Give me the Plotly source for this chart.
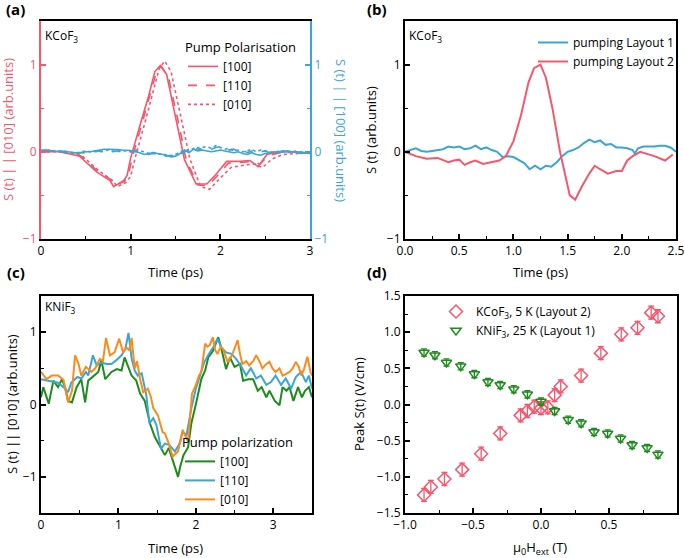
import plotly.graph_objects as go

RED = "#f7566d"
BLUE = "#3aa6d3"
GREEN = "#1c8c1c"
ORANGE = "#fb8c1c"
FONT = "Open Sans"

# ---------------- Panel (a) data ----------------
a_t_100 = [0, 0.2, 0.35, 0.43, 0.62, 0.77, 0.81, 0.92, 0.96, 1.0, 1.1, 1.2, 1.27, 1.33, 1.4, 1.51, 1.6, 1.73, 1.85, 1.95, 2.07, 2.22, 2.33, 2.42, 2.52, 2.65, 2.8, 3.0]
a_v_100 = [0, 0.0, -0.03, -0.05, -0.23, -0.33, -0.40, -0.33, -0.27, -0.07, 0.29, 0.64, 0.92, 0.99, 0.89, 0.37, -0.09, -0.37, -0.37, -0.26, -0.11, -0.11, -0.10, -0.17, -0.03, 0.0, 0.0, -0.02]
a_t_110 = [0, 0.2, 0.35, 0.45, 0.63, 0.78, 0.82, 0.93, 0.97, 1.02, 1.12, 1.22, 1.29, 1.34, 1.42, 1.53, 1.62, 1.75, 1.86, 1.97, 2.09, 2.24, 2.35, 2.44, 2.54, 2.67, 2.82, 3.0]
a_v_110 = [0, 0.0, -0.02, -0.05, -0.22, -0.32, -0.39, -0.34, -0.28, -0.06, 0.30, 0.66, 0.93, 0.98, 0.86, 0.35, -0.10, -0.38, -0.39, -0.27, -0.13, -0.12, -0.11, -0.14, -0.04, -0.01, 0.0, -0.01]
a_t_010 = [0, 0.2, 0.35, 0.45, 0.65, 0.8, 0.85, 0.95, 1.0, 1.05, 1.15, 1.25, 1.32, 1.38, 1.45, 1.56, 1.66, 1.78, 1.88, 2.0, 2.12, 2.28, 2.38, 2.47, 2.58, 2.7, 2.85, 3.0]
a_v_010 = [0, 0.0, -0.02, -0.04, -0.22, -0.33, -0.40, -0.35, -0.28, -0.07, 0.30, 0.68, 0.96, 1.04, 0.92, 0.40, -0.08, -0.40, -0.43, -0.30, -0.18, -0.15, -0.14, -0.18, -0.08, -0.03, -0.02, -0.01]

a_t_blue = [round(0.05 * i, 2) for i in range(61)]
a_b_100 = [0.02, 0.02, 0.015, 0.01, 0.01, 0.005, 0.0, -0.01, -0.015, -0.01, 0.0, 0.0, 0.01, 0.02, 0.03, 0.03, 0.03, 0.025, 0.02, 0.02,
           0.015, 0.0, -0.01, -0.03, -0.02, -0.01, -0.02, -0.03, -0.04, -0.06, -0.05, -0.02, 0.02, -0.01, 0.03, 0.01, 0.02, 0.01, 0.0, 0.01,
           0.02, 0.01, 0.0, -0.01, 0.0, -0.02, -0.03, -0.01, -0.03, -0.04, -0.02, -0.01, 0.0, -0.01, 0.0, 0.01, 0.0, -0.01, -0.02, -0.01, -0.02]
a_b_110 = [0.01, 0.02, 0.01, 0.0, 0.01, 0.0, -0.01, 0.0, -0.02, -0.01, -0.01, 0.0, 0.0, 0.01, 0.0, 0.01, 0.0, 0.01, 0.02, 0.01,
           0.0, 0.01, 0.0, -0.02, -0.03, -0.02, -0.03, -0.04, -0.05, -0.04, -0.06, -0.03, 0.0, 0.03, -0.01, 0.05, 0.02, 0.04, 0.03, 0.05,
           0.06, 0.04, 0.02, 0.03, 0.0, 0.02, -0.01, 0.01, 0.02, 0.0, 0.01, -0.01, 0.02, 0.0, 0.01, 0.0, 0.01, -0.01, 0.0, -0.01, -0.02]
a_b_010 = [0.0, 0.01, 0.02, 0.01, 0.0, 0.01, 0.0, -0.01, -0.01, 0.0, 0.01, 0.0, 0.01, 0.0, 0.01, 0.02, 0.01, 0.0, 0.01, 0.01,
           0.0, 0.02, 0.01, 0.0, -0.02, -0.01, -0.03, -0.02, -0.04, -0.05, -0.03, 0.0, 0.02, 0.01, 0.04, 0.02, 0.05, 0.06, 0.04, 0.07,
           0.05, 0.03, 0.04, 0.01, 0.02, 0.0, 0.01, 0.03, 0.0, 0.02, 0.01, 0.0, -0.01, 0.01, 0.0, -0.01, 0.0, 0.01, -0.01, 0.0, -0.01]

# ---------------- Panel (b) data ----------------
b_t_l1 = [0, 0.05, 0.1, 0.15, 0.2, 0.25, 0.3, 0.35, 0.4, 0.45, 0.5, 0.55, 0.6, 0.65, 0.7, 0.75, 0.8, 0.85, 0.9, 0.95, 1.0, 1.05, 1.1, 1.15, 1.2, 1.25, 1.3, 1.35, 1.4, 1.45, 1.5, 1.55, 1.6, 1.65, 1.7, 1.75, 1.8, 1.85, 1.9, 1.95, 2.0, 2.05, 2.1, 2.12, 2.15, 2.2, 2.25, 2.3, 2.35, 2.4, 2.45, 2.5]
b_v_l1 = [0, 0.02, 0.04, 0.01, 0.0, 0.01, 0.02, 0.03, 0.06, 0.05, 0.06, 0.03, 0.04, 0.07, 0.03, 0.05, 0.02, 0.0, -0.06, -0.05, -0.06, -0.1, -0.13, -0.2, -0.16, -0.2, -0.16, -0.17, -0.12, -0.05, 0.0, 0.02, 0.05, 0.1, 0.14, 0.11, 0.13, 0.08, 0.09, 0.05, 0.05, 0.04, 0.02, -0.02, 0.04, 0.06, 0.06, 0.06, 0.07, 0.07, 0.05, 0.0]
b_t_l2 = [0, 0.1, 0.2, 0.3, 0.4, 0.45, 0.5, 0.55, 0.6, 0.65, 0.72, 0.8, 0.87, 0.93, 1.0, 1.07, 1.14, 1.19, 1.25, 1.3, 1.36, 1.43, 1.48, 1.52, 1.57, 1.63, 1.7, 1.75, 1.8, 1.87, 1.95, 2.0, 2.05, 2.1, 2.17, 2.25, 2.3, 2.4, 2.47]
b_v_l2 = [0, -0.05, -0.08, -0.07, -0.12, -0.1, -0.09, -0.15, -0.12, -0.1, -0.14, -0.12, -0.1, -0.05, 0.12, 0.42, 0.8, 0.96, 1.0, 0.85, 0.5, 0.0, -0.3, -0.5, -0.55, -0.4, -0.25, -0.16, -0.2, -0.25, -0.22, -0.22, -0.1, -0.05, 0.0, -0.03, -0.05, -0.1, -0.03]

# ---------------- Panel (c) data ----------------
c_t_100 = [0, 0.03, 0.1, 0.16, 0.22, 0.27, 0.31, 0.35, 0.4, 0.46, 0.52, 0.57, 0.61, 0.68, 0.74, 0.78, 0.83, 0.87, 0.91, 0.98, 1.04, 1.08, 1.13, 1.17, 1.23, 1.28, 1.34, 1.41, 1.47, 1.54, 1.6, 1.65, 1.7, 1.77, 1.8, 1.84, 1.9, 1.94, 2.01, 2.07, 2.12, 2.16, 2.22, 2.29, 2.33, 2.39, 2.44, 2.5, 2.57, 2.61, 2.68, 2.74, 2.8, 2.85, 2.91, 2.95, 3.02, 3.08, 3.12, 3.17, 3.21, 3.26, 3.32, 3.37, 3.41, 3.46, 3.5]
c_v_100 = [0.1, 0.24, 0.01, 0.33, 0.24, 0.35, 0.24, 0.05, 0.03, 0.24, 0.35, 0.03, 0.33, 0.4, 0.45, 0.61, 0.35, 0.4, 0.45, 0.49, 0.47, 0.65, 0.51, 0.4, 0.33, 0.15, 0.05, -0.27, -0.45, -0.59, -0.7, -0.6, -0.78, -1.0, -0.85, -0.7, -0.59, -0.27, 0.05, 0.35, 0.47, 0.65, 0.74, 0.93, 0.77, 0.49, 0.65, 0.52, 0.56, 0.33, 0.35, 0.35, 0.19, 0.24, 0.1, 0.19, 0.05, -0.01, 0.24, 0.19, 0.24, 0.05, 0.24, 0.1, 0.19, 0.24, 0.1]
c_t_110 = [0, 0.12, 0.22, 0.31, 0.35, 0.39, 0.47, 0.52, 0.58, 0.61, 0.67, 0.72, 0.78, 0.85, 0.91, 0.97, 1.04, 1.09, 1.13, 1.17, 1.21, 1.25, 1.3, 1.36, 1.4, 1.45, 1.49, 1.55, 1.6, 1.66, 1.73, 1.79, 1.83, 1.88, 1.94, 2.0, 2.05, 2.11, 2.18, 2.24, 2.28, 2.33, 2.39, 2.46, 2.52, 2.58, 2.65, 2.71, 2.78, 2.84, 2.91, 2.97, 3.03, 3.1, 3.16, 3.23, 3.29, 3.36, 3.42, 3.46, 3.5]
c_v_110 = [0.35, 0.32, 0.3, 0.22, 0.17, 0.3, 0.38, 0.36, 0.45, 0.4, 0.68, 0.54, 0.58, 0.56, 0.56, 0.61, 0.68, 0.77, 0.99, 0.64, 0.47, 0.4, 0.43, 0.13, -0.26, -0.19, -0.28, -0.61, -0.54, -0.56, -0.65, -0.54, -0.38, -0.42, -0.06, 0.22, 0.4, 0.59, 0.72, 0.82, 0.91, 0.79, 0.72, 0.7, 0.63, 0.54, 0.4, 0.5, 0.36, 0.4, 0.27, 0.31, 0.4, 0.27, 0.36, 0.22, 0.38, 0.45, 0.31, 0.4, 0.22]
c_t_010 = [0, 0.07, 0.14, 0.22, 0.29, 0.35, 0.4, 0.44, 0.48, 0.52, 0.58, 0.65, 0.7, 0.76, 0.8, 0.84, 0.89, 0.95, 1.01, 1.06, 1.1, 1.14, 1.17, 1.21, 1.24, 1.28, 1.32, 1.38, 1.42, 1.45, 1.51, 1.57, 1.6, 1.64, 1.7, 1.74, 1.77, 1.8, 1.83, 1.87, 1.9, 1.95, 2.0, 2.04, 2.07, 2.12, 2.15, 2.18, 2.22, 2.25, 2.28, 2.32, 2.35, 2.41, 2.45, 2.48, 2.54, 2.57, 2.6, 2.65, 2.69, 2.74, 2.78, 2.82, 2.86, 2.9, 2.95, 2.99, 3.03, 3.08, 3.12, 3.16, 3.21, 3.25, 3.29, 3.33, 3.36, 3.4, 3.44, 3.48, 3.5]
c_v_010 = [0.45, 0.35, 0.4, 0.4, 0.34, 0.03, 0.19, 0.68, 0.58, 0.4, 0.52, 0.45, 0.5, 0.63, 0.6, 0.92, 0.68, 0.72, 0.91, 0.72, 0.79, 0.75, 0.92, 0.5, 0.6, 0.35, 0.17, 0.22, 0.1, -0.05, -0.15, -0.38, -0.4, -0.51, -0.72, -0.68, -0.65, -0.5, -0.35, -0.45, -0.51, 0.15, 0.27, 0.4, 0.45, 0.84, 0.8, 0.82, 0.93, 0.75, 0.7, 0.8, 0.77, 0.59, 0.65, 0.72, 0.89, 0.7, 0.56, 0.6, 0.54, 0.6, 0.68, 0.6, 0.5, 0.55, 0.59, 0.5, 0.45, 0.5, 0.4, 0.42, 0.45, 0.5, 0.59, 0.52, 0.4, 0.5, 0.66, 0.45, 0.4]

# ---------------- Panel (d) data ----------------
d_h_co = [-0.86, -0.81, -0.71, -0.58, -0.44, -0.30, -0.15, -0.10, -0.05, 0.0, 0.05, 0.10, 0.145, 0.295, 0.44, 0.59, 0.71, 0.81, 0.86]
d_s_co = [-1.25, -1.14, -1.03, -0.90, -0.68, -0.40, -0.15, -0.09, -0.03, -0.05, -0.04, 0.13, 0.25, 0.40, 0.71, 0.97, 1.06, 1.27, 1.22]
d_e_co = [0.09] * 19
d_h_ni = [-0.86, -0.78, -0.695, -0.59, -0.49, -0.39, -0.30, -0.20, -0.10, 0.0, 0.10, 0.20, 0.295, 0.39, 0.49, 0.585, 0.67, 0.78, 0.86]
d_s_ni = [0.72, 0.68, 0.58, 0.53, 0.42, 0.31, 0.27, 0.21, 0.14, 0.04, -0.09, -0.21, -0.26, -0.38, -0.40, -0.47, -0.56, -0.60, -0.69]
d_e_ni = [0.05] * 19

W, H = 685, 558
def px_x(p): return p / W
def px_y(p): return 1 - p / H

fig = go.Figure()
LW = 1.6
# panel a
fig.add_trace(go.Scatter(x=a_t_blue, y=a_b_100, mode="lines", line=dict(color=BLUE, width=LW), xaxis="x", yaxis="y2", showlegend=False))
fig.add_trace(go.Scatter(x=a_t_blue, y=a_b_110, mode="lines", line=dict(color=BLUE, width=LW, dash="dash"), xaxis="x", yaxis="y2", showlegend=False))
fig.add_trace(go.Scatter(x=a_t_blue, y=a_b_010, mode="lines", line=dict(color=BLUE, width=LW, dash="dot"), xaxis="x", yaxis="y2", showlegend=False))
fig.add_trace(go.Scatter(x=a_t_100, y=a_v_100, name="[100]", mode="lines", line=dict(color=RED, width=LW), xaxis="x", yaxis="y", legend="legend"))
fig.add_trace(go.Scatter(x=a_t_110, y=a_v_110, name="[110]", mode="lines", line=dict(color=RED, width=LW, dash="dash"), xaxis="x", yaxis="y", legend="legend"))
fig.add_trace(go.Scatter(x=a_t_010, y=a_v_010, name="[010]", mode="lines", line=dict(color=RED, width=LW, dash="dot"), xaxis="x", yaxis="y", legend="legend"))
# panel b
fig.add_trace(go.Scatter(x=b_t_l1, y=b_v_l1, name="pumping Layout 1", mode="lines", line=dict(color=BLUE, width=2), xaxis="x3", yaxis="y3", legend="legend2"))
fig.add_trace(go.Scatter(x=b_t_l2, y=b_v_l2, name="pumping Layout 2", mode="lines", line=dict(color=RED, width=2), xaxis="x3", yaxis="y3", legend="legend2"))
# panel c
fig.add_trace(go.Scatter(x=c_t_100, y=c_v_100, name="[100]", mode="lines", line=dict(color=GREEN, width=2), xaxis="x4", yaxis="y4", legend="legend3"))
fig.add_trace(go.Scatter(x=c_t_110, y=c_v_110, name="[110]", mode="lines", line=dict(color=BLUE, width=2), xaxis="x4", yaxis="y4", legend="legend3"))
fig.add_trace(go.Scatter(x=c_t_010, y=c_v_010, name="[010]", mode="lines", line=dict(color=ORANGE, width=2), xaxis="x4", yaxis="y4", legend="legend3"))
# panel d
fig.add_trace(go.Scatter(x=d_h_co, y=d_s_co, name="KCoF<sub>3</sub>, 5 K (Layout 2)", mode="markers",
                         marker=dict(symbol="diamond-open", size=10, color=RED, line=dict(width=1.5, color=RED)),
                         error_y=dict(type="data", array=d_e_co, color=RED, thickness=1.3, width=3),
                         xaxis="x5", yaxis="y5", legend="legend4"))
fig.add_trace(go.Scatter(x=d_h_ni, y=d_s_ni, name="KNiF<sub>3</sub>, 25 K (Layout 1)", mode="markers",
                         marker=dict(symbol="triangle-down-open", size=9, color=GREEN, line=dict(width=1.5, color=GREEN)),
                         error_y=dict(type="data", array=d_e_ni, color=GREEN, thickness=1.3, width=3),
                         xaxis="x5", yaxis="y5", legend="legend4"))

tickfont = dict(family=FONT, size=12, color="black")

def xax(domain, rng, dtick, minor, anchor, fmt=None):
    d = dict(domain=domain, range=rng, anchor=anchor, showline=True, linecolor="black", linewidth=2, mirror=True,
             ticks="inside", ticklen=5, tickwidth=1.5, tickcolor="black", dtick=dtick, tick0=rng[0],
             minor=dict(dtick=minor, ticks="inside", ticklen=3, tickwidth=1.2, tickcolor="black", showgrid=False),
             showgrid=False, zeroline=False, tickfont=tickfont, automargin=False)
    if fmt:
        d["tickformat"] = fmt
    return d

def yax(domain, rng, dtick, minor, anchor, color="black", mirror=True, side="left", fmt=None, tick0=None):
    d = dict(domain=domain, range=rng, anchor=anchor, showline=True, linecolor=color, linewidth=2, mirror=mirror, side=side,
             ticks="inside", ticklen=5, tickwidth=1.5, tickcolor=color, dtick=dtick, tick0=tick0 if tick0 is not None else 0,
             minor=dict(dtick=minor, ticks="inside", ticklen=3, tickwidth=1.2, tickcolor=color, showgrid=False),
             showgrid=False, zeroline=False, tickfont=dict(family=FONT, size=12, color=color), automargin=False)
    if fmt:
        d["tickformat"] = fmt
    return d

xa = [px_x(41), px_x(310)]
xb = [px_x(405), px_x(676)]
xc = [px_x(41), px_x(312)]
xd = [px_x(405), px_x(677)]
ytop = [px_y(239), px_y(21)]
ybot = [px_y(513), px_y(296)]

layout_axes = dict(
    xaxis=xax(xa, [0, 3], 1, 0.5, "y"),
    yaxis=yax(ytop, [-1, 1.5], 1, 0.5, "x", color=RED, mirror=False),
    yaxis2=yax(ytop, [-1, 1.5], 1, 0.5, "x", color=BLUE, mirror=False, side="right"),
    xaxis3=xax(xb, [0, 2.5], 0.5, 0.25, "y3", fmt=".1f"),
    yaxis3=yax(ytop, [-1, 1.5], 1, 0.5, "x3"),
    xaxis4=xax(xc, [0, 3.5], 1, 0.5, "y4"),
    yaxis4=yax(ybot, [-1.5, 1.5], 1, 0.5, "x4", tick0=0),
    xaxis5=xax(xd, [-1, 1], 0.5, 0.25, "y5", fmt=".1f"),
    yaxis5=yax(ybot, [-1.5, 1.5], 0.5, 0.25, "x5", fmt=".1f", tick0=-1.5),
)
layout_axes["yaxis2"]["overlaying"] = "y"

legfont = dict(family=FONT, size=12, color="black")
annots = []
def txt(x, y, s, size=12, color="black", angle=0, bold=False, xanchor="center", yanchor="middle"):
    if bold:
        s = "<b>" + s + "</b>"
    annots.append(dict(x=px_x(x), y=px_y(y), xref="paper", yref="paper", text=s, showarrow=False,
                       font=dict(family=FONT, size=size, color=color), textangle=angle, xanchor=xanchor, yanchor=yanchor))

txt(16, 9, "(a)", size=15, bold=True)
txt(377, 9, "(b)", size=15, bold=True)
txt(16, 272, "(c)", size=15, bold=True)
txt(377, 272, "(d)", size=15, bold=True)
txt(43, 36, "KCoF<sub>3</sub>", xanchor="left")
txt(407, 36, "KCoF<sub>3</sub>", xanchor="left")
txt(43, 307, "KNiF<sub>3</sub>", xanchor="left")
txt(175, 272, "Time (ps)", size=13)
txt(540, 272, "Time (ps)", size=13)
txt(175, 548, "Time (ps)", size=13)
txt(540, 548, "μ<sub>0</sub>H<sub>ext</sub> (T)", size=13)
txt(8, 130, "S (t) | | [010] (arb.units)", size=13, color=RED, angle=-90)
txt(341, 130, "S (t) | | [100] (arb.units)", size=13, color=BLUE, angle=90)
txt(371, 130, "S (t) (arb.units)", size=13, angle=-90)
txt(12, 404, "S (t) || [010] (arb.units)", size=13, angle=-90)
txt(359, 404, "Peak S(t) (V/cm)", size=13, angle=-90)

fig.update_layout(
    width=W, height=H, margin=dict(l=0, r=0, t=0, b=0, autoexpand=False),
    paper_bgcolor="white", plot_bgcolor="white",
    font=dict(family=FONT, size=12, color="black"),
    annotations=annots,
    legend=dict(x=px_x(183), y=px_y(35), xanchor="left", yanchor="top", bgcolor="rgba(0,0,0,0)", font=legfont,
                title=dict(text="Pump Polarisation", font=dict(family=FONT, size=13)), tracegroupgap=0),
    legend2=dict(x=px_x(533), y=px_y(28), xanchor="left", yanchor="top", bgcolor="rgba(0,0,0,0)", font=legfont),
    legend3=dict(x=px_x(180), y=px_y(430), xanchor="left", yanchor="top", bgcolor="rgba(0,0,0,0)", font=legfont,
                 title=dict(text="Pump polarization", font=dict(family=FONT, size=13))),
    legend4=dict(x=px_x(436), y=px_y(297), xanchor="left", yanchor="top", bgcolor="rgba(0,0,0,0)", font=legfont),
    **layout_axes,
)

fig.write_html("out.html", config={"displayModeBar": False},
               post_script="document.body.style.margin='0';document.body.style.overflow='hidden';")
